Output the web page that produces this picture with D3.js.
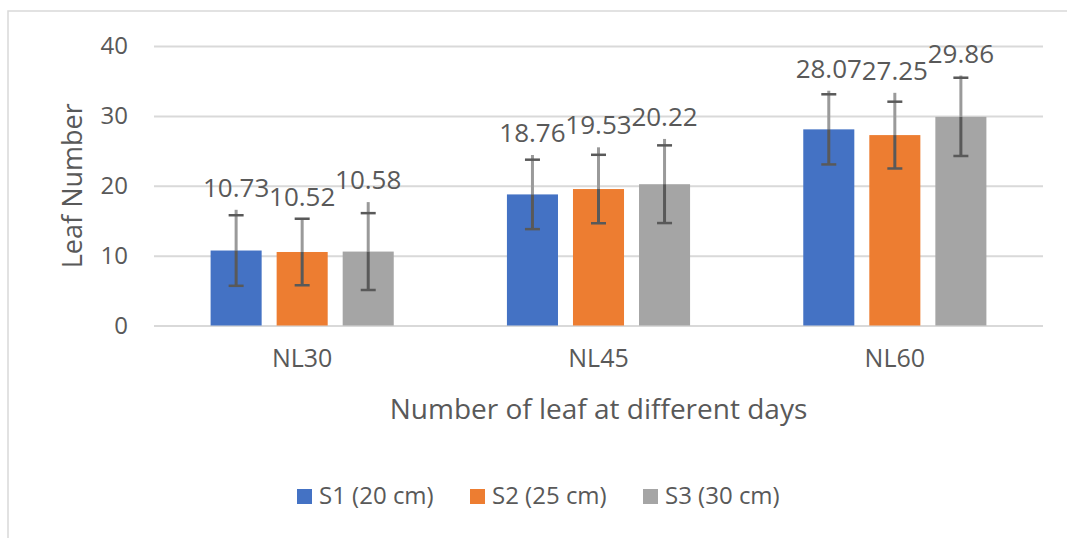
<!DOCTYPE html>
<html>
<head>
<meta charset="utf-8">
<script src="https://cdn.jsdelivr.net/npm/d3@7"></script>
<style>
  body { margin: 0; background: #fff; }
  text { font-family: "Open Sans", "Noto Sans", sans-serif; fill: #595959; }
</style>
</head>
<body>
<svg id="chart" width="1067" height="538"></svg>
<script>
// chart data
var categories = ['NL30', 'NL45', 'NL60'];
var seriesNames = ['S1 (20 cm)', 'S2 (25 cm)', 'S3 (30 cm)'];
var seriesColors = ['#4472C4', '#ED7D31', '#A5A5A5'];
var s1Values = [10.73, 18.76, 28.07];
var s2Values = [10.52, 19.53, 27.25];
var s3Values = [10.58, 20.22, 29.86];
// error bar: half length at the caps, and top of the upper whisker line
var s1Err = [5.05, 4.97, 5.02];
var s2Err = [4.76, 4.90, 4.78];
var s3Err = [5.50, 5.56, 5.60];
var s1Upper = [16.56, 24.4, 33.6];
var s2Upper = [15.3, 25.5, 33.3];
var s3Upper = [17.66, 26.7, 35.77];
var yTicks = [0, 10, 20, 30, 40];

var allValues = [s1Values, s2Values, s3Values];
var allErr = [s1Err, s2Err, s3Err];
var allUpper = [s1Upper, s2Upper, s3Upper];

var svg = d3.select('#chart');
var plotLeft = 154, plotRight = 1043, plotTop = 46, plotBottom = 325.5;

// outer frame
svg.append('rect')
    .attr('x', 8).attr('y', 11)
    .attr('width', 1080).attr('height', 560)
    .attr('fill', 'none')
    .attr('stroke', '#D9D9D9')
    .attr('stroke-width', 1.5);

var y = d3.scaleLinear().domain([0, 40]).range([plotBottom, plotTop]);
var x0 = d3.scaleBand().domain(categories).range([plotLeft, plotRight])
    .paddingInner(0.382).paddingOuter(0.191);
var x1 = d3.scaleBand().domain(d3.range(3)).range([0, x0.bandwidth()])
    .paddingInner(0.227).paddingOuter(0);

//gridlines + y tick labels
var yAxis = d3.axisLeft(y).tickValues(yTicks).tickSize(-(plotRight - plotLeft)).tickPadding(26);
var gy = svg.append('g').attr('transform', 'translate(' + plotLeft + ',0)').call(yAxis);
gy.select('.domain').remove();
gy.selectAll('.tick line').attr('stroke', '#D9D9D9').attr('stroke-width', 2);
gy.selectAll('.tick text')
    .style('font-family', '"Open Sans", sans-serif')
    .attr('font-size', 24).attr('fill', '#595959');

// x axis labels
var xAxis = d3.axisBottom(x0).tickSize(0).tickPadding(24);
var gx = svg.append('g').attr('transform', 'translate(0,' + plotBottom + ')').call(xAxis);
gx.select('.domain').remove();
gx.selectAll('.tick text')
    .style('font-family', '"Open Sans", sans-serif')
    .attr('font-size', 25).attr('fill', '#595959');

var rows = [];
categories.forEach(function (c, ci) {
    for (var si = 0; si < 3; si++) {
        rows.push({cat: c, s: si, v: allValues[si][ci], e: allErr[si][ci], up: allUpper[si][ci]});
    }
});

function cx(d) { return x0(d.cat) + x1(d.s) + x1.bandwidth() / 2; }

svg.append('g').selectAll('rect').data(rows).enter().append('rect')
    .attr('x', function (d) { return x0(d.cat) + x1(d.s); })
    .attr('y', function (d) { return y(d.v); })
    .attr('width', x1.bandwidth())
    .attr('height', function (d) { return y(0) - y(d.v); })
    .attr('fill', function (d) { return seriesColors[d.s]; });

// error bars
var eb = svg.append('g').selectAll('g').data(rows).enter().append('g');
eb.append('line')
    .attr('x1', cx).attr('x2', cx)
    .attr('y1', function (d) { return y(d.up); })
    .attr('y2', function (d) { return y(d.v); })
    .attr('stroke', '#9a9a9a').attr('stroke-width', 3);
eb.append('line')
    .attr('x1', cx).attr('x2', cx)
    .attr('y1', function (d) { return y(d.v); })
    .attr('y2', function (d) { return y(d.v - d.e); })
    .attr('stroke', '#595959').attr('stroke-width', 3);
eb.selectAll('line.cap')
    .data(function (d) { return [{d: d, val: d.v + d.e}, {d: d, val: d.v - d.e}]; })
    .enter().append('line').attr('class', 'cap')
    .attr('x1', function (c) { return cx(c.d) - 7.5; })
    .attr('x2', function (c) { return cx(c.d) + 7.5; })
    .attr('y1', function (c) { return y(c.val); })
    .attr('y2', function (c) { return y(c.val); })
    .attr('stroke', '#595959').attr('stroke-width', 2.5);

// value labels
svg.append('g').selectAll('text').data(rows).enter().append('text')
    .attr('x', cx)
    .attr('y', function (d) { return y(d.up) - 13; })
    .attr('text-anchor', 'middle')
    .attr('font-size', 26)
    .text(function (d) { return d.v.toFixed(2); });

// axis titles
svg.append('text')
    .attr('transform', 'translate(82,' + ((plotTop + plotBottom) / 2) + ') rotate(-90)')
    .attr('text-anchor', 'middle')
    .attr('font-size', 27)
    .text('Leaf Number');

svg.append('text')
    .attr('x', (plotLeft + plotRight) / 2).attr('y', 419)
    .attr('text-anchor', 'middle')
    .attr('font-size', 28)
    .text('Number of leaf at different days');

// legend
var legendX = [297, 470, 643];
var lg = svg.append('g').selectAll('g').data(seriesNames).enter().append('g')
    .attr('transform', function (d, i) { return 'translate(' + legendX[i] + ',489)'; });
lg.append('rect').attr('width', 15).attr('height', 15)
    .attr('fill', function (d, i) { return seriesColors[i]; });
lg.append('text').attr('x', 22).attr('y', 15).attr('font-size', 24)
    .text(function (d) { return d; });
</script>
</body>
</html>
